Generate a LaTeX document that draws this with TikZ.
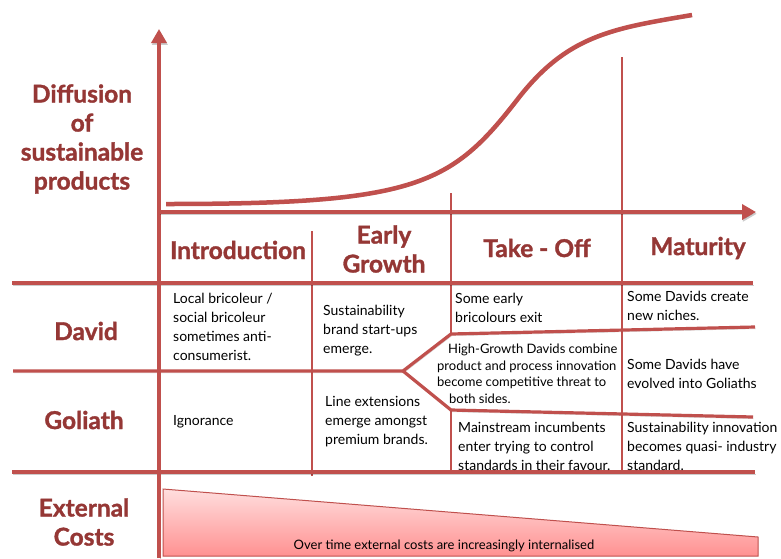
\documentclass[tikz,border=0pt]{standalone}
\usepackage{fontspec}
\setmainfont{Lato}
\newfontfamily\titlefont{Lato}[BoldFeatures={FakeBold=1.3}]
\usetikzlibrary{arrows.meta,shadings}
\definecolor{lred}{HTML}{C0504D}
\definecolor{tred}{HTML}{953735}
\begin{document}
\begin{tikzpicture}[x=1pt,y=-1pt,
  lshadow/.style={preaction={draw=black,opacity=0.2,transform canvas={shift={(0.8pt,-1.8pt)}}}},
  axisline/.style={draw=lred,line width=4.2pt,lshadow},
  gridline/.style={draw=lred,line width=3.2pt,line join=miter,lshadow},
  divline/.style={draw=lred,line width=1.4pt},
  title/.style={font=\titlefont\fontsize{24.5}{29}\selectfont\bfseries,text=tred,align=center,inner sep=0pt},
  body/.style={font=\fontsize{14}{19}\selectfont,align=left,anchor=north west,inner sep=0pt},
  small/.style={font=\fontsize{13}{16.5}\selectfont,align=left,anchor=north west,inner sep=0pt},
]
\useasboundingbox[fill=white] (0,0) rectangle (781,558);

% coordinates
\coordinate (ybot) at (159,558);
\coordinate (ytop) at (159,29);
\coordinate (xl) at (159,212);
\coordinate (xr) at (756,212);
\coordinate (h1l) at (12,283);
\coordinate (h1r) at (753,283);
\coordinate (h2l) at (13,371);
\coordinate (cp) at (403,371);
\coordinate (cu) at (451,334);
\coordinate (cur) at (755,327);
\coordinate (cd) at (451,410);
\coordinate (cdr) at (753,417);
\coordinate (h3l) at (12,472);
\coordinate (h3r) at (755,472);
\coordinate (d1t) at (312,231);
\coordinate (d1b) at (312,476);
\coordinate (d2t) at (451,193);
\coordinate (d2b) at (451,474);
\coordinate (d3t) at (622,57);
\coordinate (d3b) at (622,473);
\coordinate (tz1) at (163,489);
\coordinate (tz2) at (758,537);
\coordinate (tz3) at (758,556);
\coordinate (tz4) at (163,556);
\coordinate (s0) at (166,204);
\coordinate (s1) at (517,100);
\coordinate (s2) at (692,15);

% external cost wedge
\path[draw=lred,line width=1pt,top color={rgb,255:red,255;green,222;blue,222},bottom color={rgb,255:red,255;green,145;blue,145}]
  (tz1) -- (tz2) -- (tz3) -- (tz4) -- cycle;

% dividers
\draw[divline] (d1t) -- (d1b);
\draw[divline] (d2t) -- (cu);
\draw[divline] (cd) -- (d2b);
\draw[divline] (d3t) -- (d3b);

% grid lines
\draw[gridline] (h1l) -- (h1r);
\draw[gridline] (h2l) -- (cp) -- (cu) -- (cur);
\draw[gridline] (cp) -- (cd) -- (cdr);
\draw[gridline] (h3l) -- (h3r);

% axes
\draw[axisline,-{Triangle[length=14pt,width=15pt]}] (ybot) -- (ytop);
\draw[axisline,-{Triangle[length=14pt,width=15pt]}] (xl) -- (xr);

% diffusion curve
\draw[lred,line width=4.5pt,lshadow]
  (s0) .. controls (416,204) and (451,185) .. (s1)
       .. controls (567,35) and (612,28.6) .. (s2);

% titles
\node[title] (diff) at (82,139) {Diffusion\\of\\sustainable\\products};
\node[title] (david) at (86,331) {David};
\node[title] (goliath) at (84,420) {Goliath};
\node[title] (ext) at (84,522) {External\\Costs};
\node[title] (intro) at (238,250) {Introduction};
\node[title] (early) at (384,249) {Early\\Growth};
\node[title] (take) at (537,248) {Take - Off};
\node[title] (mat) at (698,248) {Maturity};

% cells
\node[body] (t11) at (173,293) {Local bricoleur /\\social bricoleur\\sometimes anti-\\consumerist.};
\node[body] (t12) at (323,305) {Sustainability\\brand start-ups\\emerge.};
\node[body] (t13) at (455,293) {Some early\\bricolours exit};
\node[body] (t14) at (627,291) {Some Davids create\\new niches.};
\node[small] (call) at (437,344) {\hspace{11pt}High-Growth Davids combine\\product and process innovation\\become competitive threat to\\\hspace{12pt}both sides.};
\node[body] (t24) at (627,359) {Some Davids have\\evolved into Goliaths};
\node[body] (t21) at (173,415) {Ignorance};
\node[body] (t22) at (325,396) {Line extensions\\emerge amongst\\premium brands.};
\node[body] (t23) at (458,422) {Mainstream incumbents\\enter trying to control\\standards in their favour.};
\node[body] (t25) at (627,422) {Sustainability innovation\\becomes quasi- industry\\standard.};

\node[font=\fontsize{13}{16}\selectfont,inner sep=0pt] (cap) at (444,546) {Over time external costs are increasingly internalised};
\end{tikzpicture}
\end{document}
